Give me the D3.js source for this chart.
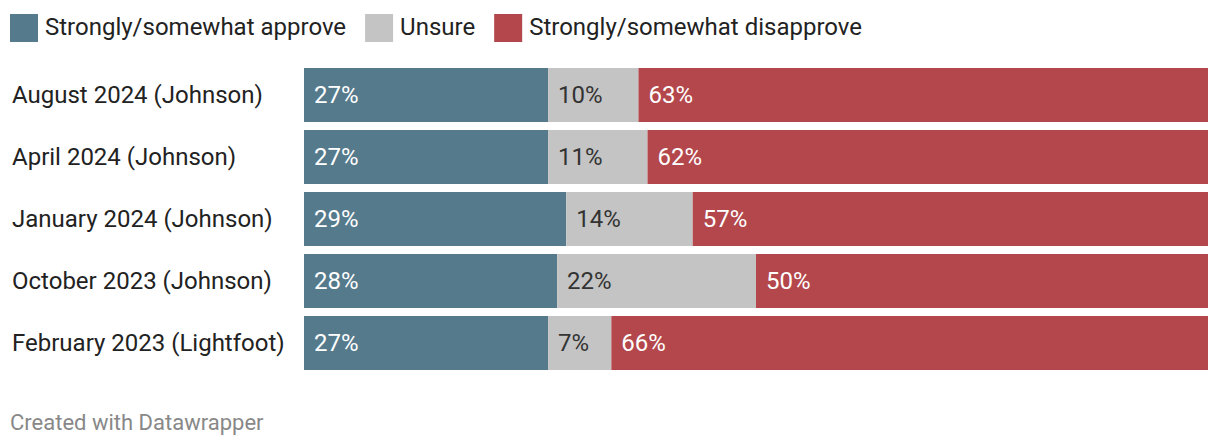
<!DOCTYPE html>
<html><head><meta charset="utf-8">
<script src="https://cdn.jsdelivr.net/npm/d3@7"></script>
<style>body{margin:0;background:#fff;font-family:Roboto,sans-serif}</style>
</head><body><svg id="c" width="1220" height="448"></svg>
<script>
const categories = ["August 2024 (Johnson)","April 2024 (Johnson)","January 2024 (Johnson)","October 2023 (Johnson)","February 2023 (Lightfoot)"];
const seriesNames = ["Strongly/somewhat approve","Unsure","Strongly/somewhat disapprove"];
const approve = [27,27,29,28,27];
const unsure = [10,11,14,22,7];
const disapprove = [63,62,57,50,66];
const colors = ["#557a8c","#c4c4c4","#b3474c"];
const textColors = ["#fff","#333","#fff"];

const svg = d3.select("#c");
const x = d3.scaleLinear().domain([0,100]).range([304,1208]);
const y = d3.scaleBand().domain(categories).range([68, 370]).paddingInner(8/62).paddingOuter(0);

// legend
let lx = 10;
seriesNames.forEach((s,i)=>{
  svg.append("rect").attr("x",lx).attr("y",14).attr("width",28).attr("height",28).attr("fill",colors[i]);
  const t = svg.append("text").attr("x",lx+35).attr("y",34.5).attr("font-size",24).attr("fill","#222").text(s);
  lx += 35 + t.node().getComputedTextLength() + 19;
});

const data = categories.map((c,i)=>({c, vals:[approve[i],unsure[i],disapprove[i]]}));
data.forEach(d=>{
  let acc=0;
  d.vals.forEach((v,j)=>{
    svg.append("rect").attr("x",x(acc)).attr("y",y(d.c)).attr("width",x(acc+v)-x(acc)).attr("height",y.bandwidth()).attr("fill",colors[j]);
    svg.append("text").attr("x",x(acc)+10).attr("y",y(d.c)+y.bandwidth()/2).attr("dy","0.35em")
      .attr("font-size",24).attr("fill",textColors[j]).text(v+"%");
    acc+=v;
  });
  svg.append("text").attr("x",12).attr("y",y(d.c)+y.bandwidth()/2).attr("dy","0.35em")
    .attr("font-size",24).attr("fill","#222").text(d.c);
});

svg.append("text").attr("x",10).attr("y",430).attr("font-size",22).attr("fill","#888").text("Created with Datawrapper");
</script></body></html>
